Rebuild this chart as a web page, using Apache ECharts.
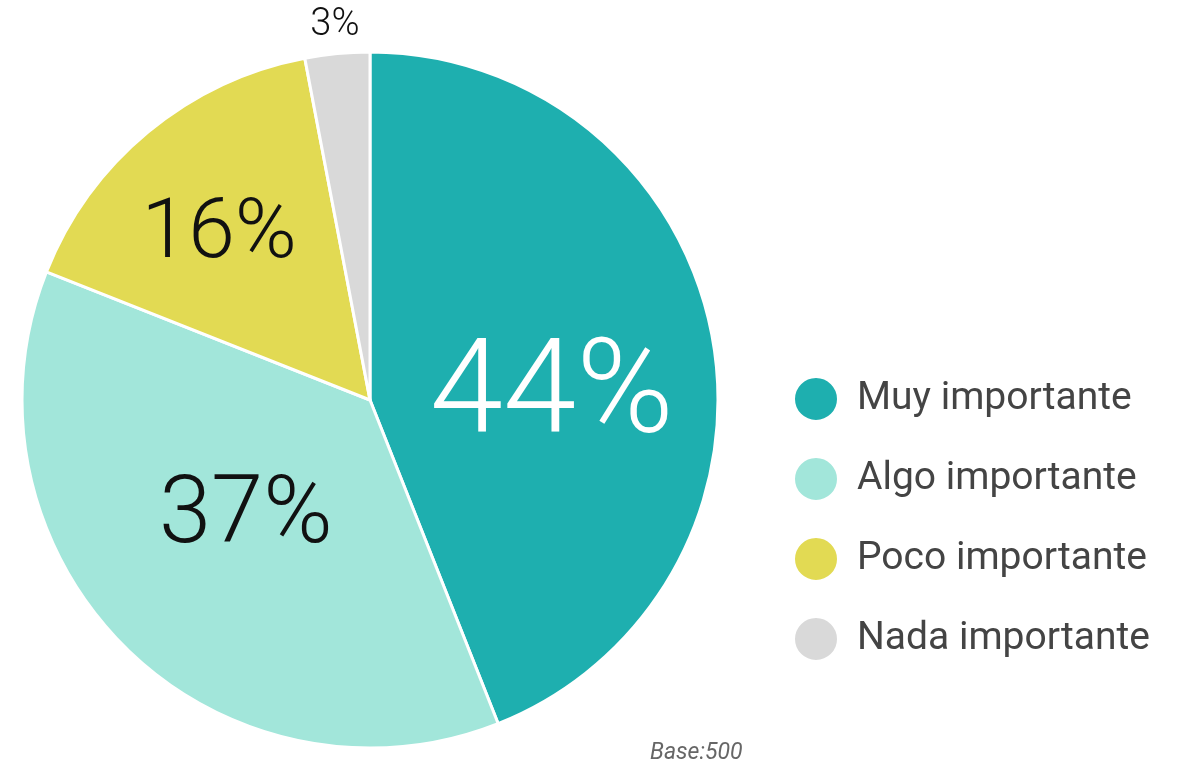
<!DOCTYPE html>
<html>
<head>
<meta charset="utf-8">
<script src="https://cdn.jsdelivr.net/npm/echarts@6/dist/echarts.min.js"></script>
<style>
  html, body { margin: 0; padding: 0; background: #fff; }
  #chart { width: 1194px; height: 762px; }
</style>
</head>
<body>
<div id="chart"></div>
<script>
const categories = ["Muy importante", "Algo importante", "Poco importante", "Nada importante"];
const values = [44, 37, 16, 3];
const baseText = "Base:500";

const colors = ["#1EAFAF", "#A2E6DA", "#E2DA53", "#D9D9D9"];
// label look per slice
const labelSizes = [132, 94, 84, 38];
const labelColors = ["#fff", "#111", "#111", "#111"];
const labelShift = [[8, 32], [1, -7], [-38, -28], [28, -20]];

const chart = echarts.init(document.getElementById("chart"));

chart.setOption({
  animation: false,
  color: colors,
  title: {
    text: baseText,
    left: 645,
    top: 737,
    textStyle: {
      fontFamily: "Roboto",
      fontStyle: "italic",
      fontWeight: "normal",
      fontSize: 23,
      color: "#666"
    }
  },
  legend: {
    orient: "vertical",
    left: 788,
    top: 371,
    icon: "circle",
    itemWidth: 44,
    itemHeight: 44,
    itemGap: 34,
    textStyle: {
      fontFamily: "Roboto",
      fontSize: 39,
      color: "#444",
      padding: [0, 0, 0, 14]
    },
    data: categories
  },
  series: [
    {
      type: "pie",
      center: [370, 400],
      radius: 348,
      startAngle: 90,
      clockwise: true,
      itemStyle: {
        borderColor: "#fff",
        borderWidth: 3
      },
      labelLine: { show: false, length: 8, length2: 0 },
      labelLayout: function (params) {
        const s = labelShift[params.dataIndex];
        return { dx: s[0], dy: s[1] };
      },
      data: categories.map((name, i) => ({
        name: name,
        value: values[i],
        label: {
          show: true,
          position: i === 3 ? "outside" : "inside",
          formatter: "{c}%",
          fontFamily: "Roboto",
          fontWeight: 300,
          fontSize: labelSizes[i],
          color: labelColors[i]
        }
      }))
    }
  ]
});
</script>
</body>
</html>
